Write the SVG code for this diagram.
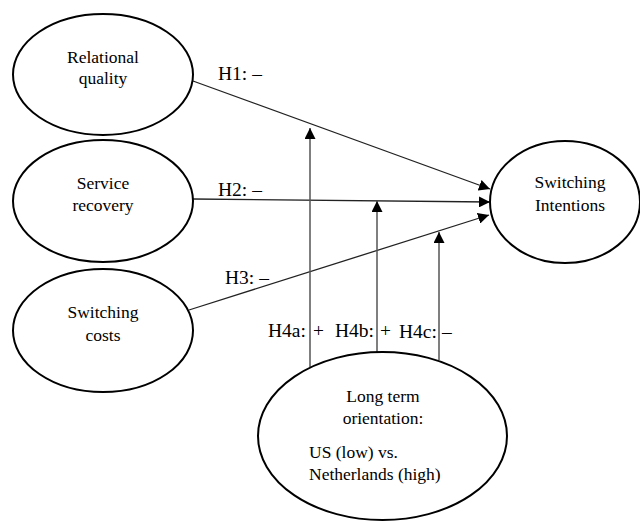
<svg xmlns="http://www.w3.org/2000/svg" width="640" height="521" viewBox="0 0 640 521">
<defs>
<style>
.node ellipse{fill:#fff;stroke:#000;stroke-width:2}
text{font-family:"Liberation Serif","Times New Roman",serif;font-size:17.5px;fill:#000}
.lbl text{font-size:19.5px}
.c{text-anchor:middle}
.conn line{stroke:#222;stroke-width:1.3}
.conn line.v{stroke:#555;stroke-width:1.5}
</style>
<marker id="ah" viewBox="0 0 10 10" refX="10" refY="5" markerWidth="11" markerHeight="11" markerUnits="userSpaceOnUse" orient="auto">
<path d="M0,0 L10,5 L0,10 z" fill="#000"/>
</marker>
</defs>
<rect width="640" height="521" fill="#fff"/>
<g id="connectors" class="conn">
<line x1="193" y1="81" x2="490" y2="189" marker-end="url(#ah)"/>
<line x1="193" y1="199" x2="490" y2="202" marker-end="url(#ah)"/>
<line x1="189" y1="310" x2="489" y2="215" marker-end="url(#ah)"/>
<line class="v" x1="310" y1="367" x2="310" y2="128" marker-end="url(#ah)"/>
<line class="v" x1="377" y1="353" x2="377" y2="201" marker-end="url(#ah)"/>
<line class="v" x1="439" y1="360" x2="439" y2="232" marker-end="url(#ah)"/>
</g>
<g id="labels" class="lbl">
<text x="218" y="80">H1: –</text>
<text x="218" y="196">H2: –</text>
<text x="225" y="284">H3: –</text>
<text x="268" y="337">H4a:<tspan x="313">+</tspan></text>
<text x="335" y="337">H4b:<tspan x="380">+</tspan></text>
<text x="399" y="338">H4c:<tspan x="442">–</tspan></text>
</g>
<g id="relational-quality" class="node">
<ellipse cx="103" cy="74.5" rx="90" ry="60.5"/>
<text class="c" x="103" y="63">Relational</text>
<text class="c" x="103" y="84">quality</text>
</g>
<g id="service-recovery" class="node">
<ellipse cx="103" cy="201" rx="90" ry="61"/>
<text class="c" x="103" y="189">Service</text>
<text class="c" x="103" y="211">recovery</text>
</g>
<g id="switching-costs" class="node">
<ellipse cx="103" cy="330.5" rx="90" ry="61.5"/>
<text class="c" x="103" y="318">Switching</text>
<text class="c" x="103" y="341">costs</text>
</g>
<g id="switching-intentions" class="node">
<ellipse cx="565" cy="202" rx="75" ry="61"/>
<text class="c" x="570" y="188">Switching</text>
<text class="c" x="570" y="211">Intentions</text>
</g>
<g id="long-term-orientation" class="node">
<ellipse cx="382.5" cy="436" rx="124.5" ry="84"/>
<text class="c" x="383" y="402">Long term</text>
<text class="c" x="383" y="424">orientation:</text>
<text x="309" y="458">US (low) vs.</text>
<text x="309" y="480">Netherlands (high)</text>
</g>
</svg>
